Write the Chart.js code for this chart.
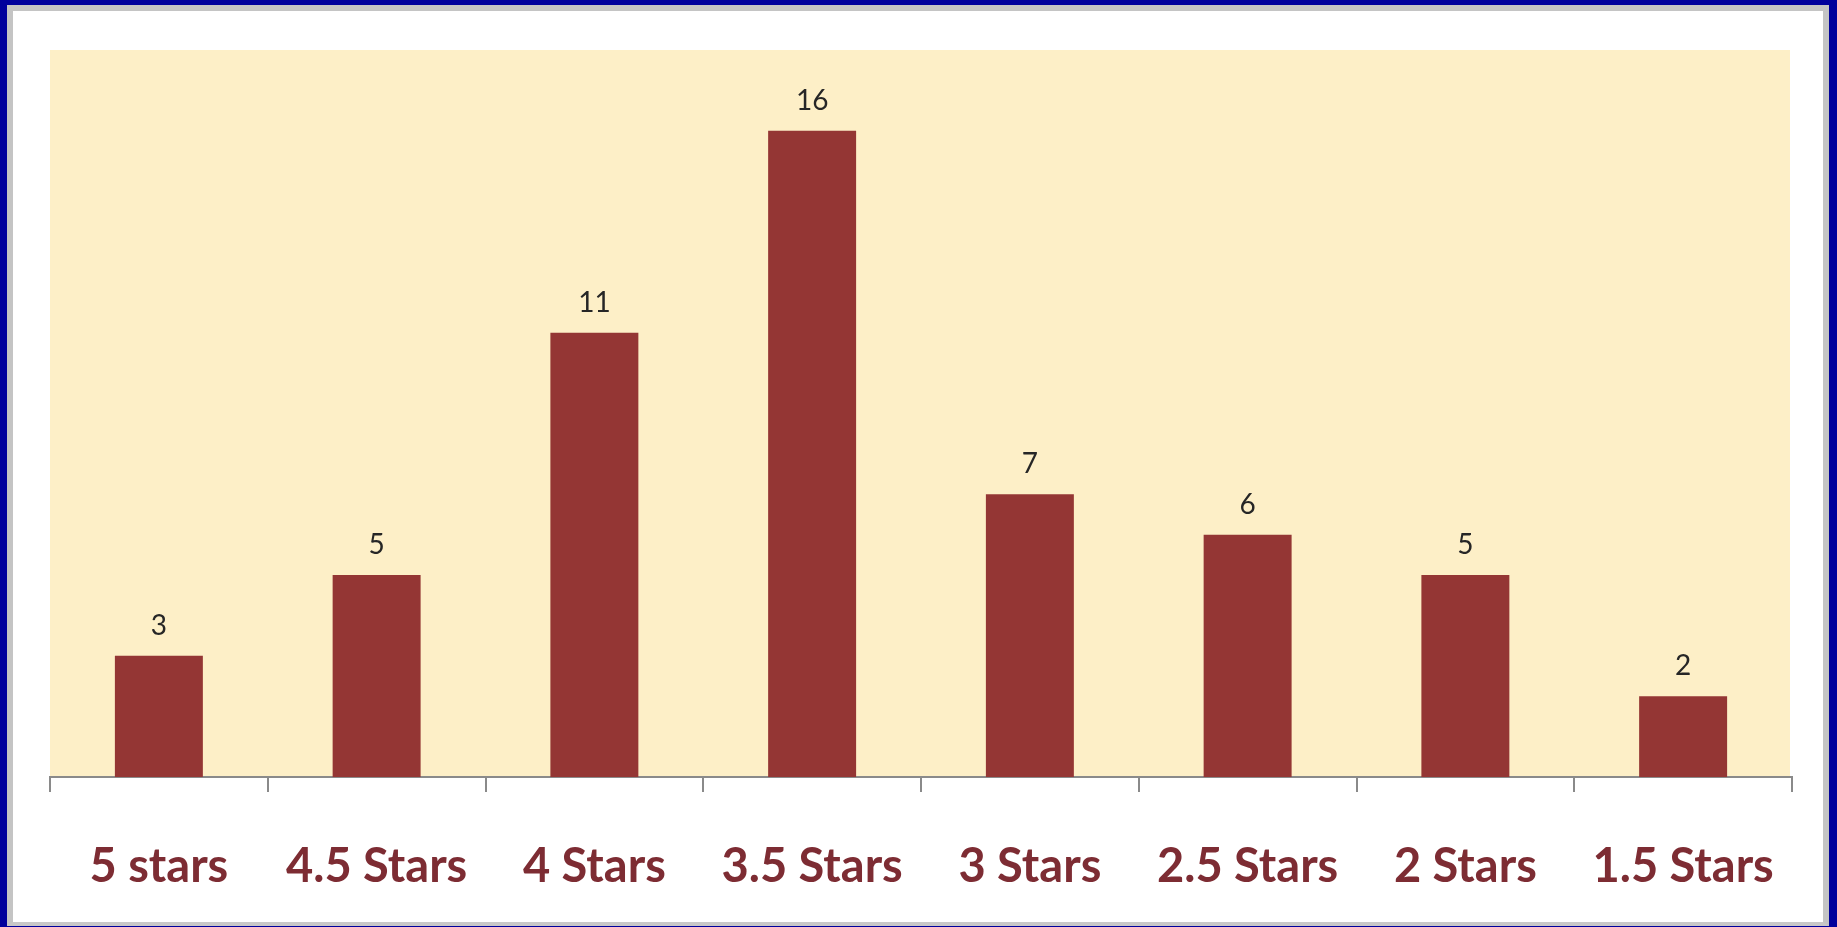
<!DOCTYPE html>
<html>
<head>
<meta charset="utf-8">
<script src="https://cdn.jsdelivr.net/npm/chart.js@4/dist/chart.umd.min.js"></script>
<style>
html,body{margin:0;padding:0;width:1837px;height:927px;overflow:hidden;background:#00009c;}
#frame{position:absolute;left:7px;top:5px;width:1810px;height:911px;background:#fff;
  border-left:6px solid #c4c4c4;border-top:6px solid #c4c4c4;border-right:6px solid #c4c4c4;border-bottom:4px solid #c8c8c8;}
#wrap{position:absolute;left:0;top:0;width:1837px;height:927px;}
</style>
</head>
<body>
<div id="frame"></div>
<div id="wrap"><canvas id="c" width="1837" height="927"></canvas></div>
<script>
const categories = ["5 stars","4.5 Stars","4 Stars","3.5 Stars","3 Stars","2.5 Stars","2 Stars","1.5 Stars"];
const counts = [3,5,11,16,7,6,5,2];
const yTicks = [0,18];

const plotBg = {
  id:'plotBg',
  beforeDraw(chart){
    const {ctx, chartArea:a} = chart;
    ctx.save();
    ctx.fillStyle = '#fdefc7';
    ctx.fillRect(a.left, a.top, a.right - a.left - 2, a.bottom - a.top);
    ctx.restore();
  }
};
const valueLabels = {
  id:'valueLabels',
  afterDatasetsDraw(chart){
    const ctx = chart.ctx;
    const meta = chart.getDatasetMeta(0);
    ctx.save();
    ctx.font = '28px Lato, "Open Sans", sans-serif';
    ctx.fillStyle = '#262626';
    ctx.textAlign = 'center';
    ctx.textBaseline = 'middle';
    meta.data.forEach((el, i) => {
      ctx.fillText(String(counts[i]), el.x, el.y - 30);
    });
    ctx.restore();
  }
};

new Chart(document.getElementById('c'), {
  type:'bar',
  data:{
    labels:categories,
    datasets:[{
      data:counts,
      backgroundColor:'#943634',
      borderWidth:0,
      categoryPercentage:1,
      barPercentage:0.404
    }]
  },
  options:{
    responsive:false,
    animation:false,
    devicePixelRatio:1,
    layout:{padding:{left:50,right:45,top:50,bottom:0}},
    plugins:{legend:{display:false},tooltip:{enabled:false}},
    scales:{
      y:{display:false,min:yTicks[0],max:yTicks[1]},
      x:{
        offset:true,
        afterFit(scale){ scale.height = 150; },
        border:{display:true,color:'#8a8a8a',width:2},
        grid:{offset:true,drawOnChartArea:false,drawTicks:true,tickLength:15,color:'#8a8a8a',lineWidth:2},
        ticks:{padding:47,color:'#7d2c33',font:{family:'Lato, "Open Sans", sans-serif',size:47,weight:'bold',lineHeight:1.2},maxRotation:0,autoSkip:false}
      }
    }
  },
  plugins:[plotBg,valueLabels]
});
</script>
</body>
</html>
